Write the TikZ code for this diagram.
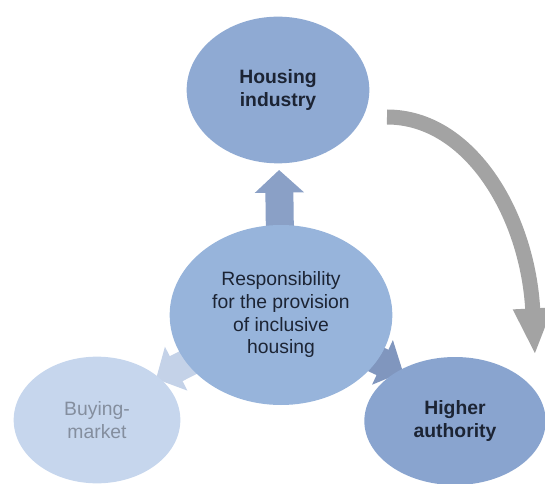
\documentclass[tikz,border=0pt]{standalone}
\usepackage{fontspec}
\setmainfont{Liberation Sans}
\usetikzlibrary{shapes.geometric,arrows.meta,backgrounds}
\definecolor{housingfill}{RGB}{143,170,211}
\definecolor{centrefill}{RGB}{151,180,219}
\definecolor{higherfill}{RGB}{137,164,207}
\definecolor{buyingfill}{RGB}{198,214,237}
\definecolor{inktext}{RGB}{28,36,52}
\definecolor{paletext}{RGB}{132,142,158}
\definecolor{uparrow}{RGB}{138,160,198}
\definecolor{sidearrow}{RGB}{128,150,190}
\definecolor{palearrow}{RGB}{196,210,232}
\definecolor{bendgray}{RGB}{163,163,163}

\begin{document}
\begin{tikzpicture}[x=0.75pt,y=0.75pt,every node/.style={shape=ellipse,align=center,inner sep=0pt,text=inktext,font=\fontsize{14.5}{17}\selectfont},
    blockarrow/.style={line width=21pt,-{Triangle[length=17pt,width=36pt]}}]
  \useasboundingbox (0,0) rectangle (545,-484);
  \node[fill=housingfill,minimum width=137pt,minimum height=110pt,font=\fontsize{14.5}{17}\selectfont\bfseries] (housing) at (278,-90) {Housing\\industry};
  \node[fill=centrefill,minimum width=167pt,minimum height=135pt] (centre) at (281,-315) {Responsibility\\for the provision\\of inclusive\\housing};
  \node[fill=buyingfill,minimum width=125pt,minimum height=95pt,text=paletext] (buying) at (97,-420) {Buying-\\market};
  \node[fill=higherfill,minimum width=136pt,minimum height=96pt,font=\fontsize{14.5}{17}\selectfont\bfseries] (higher) at (455,-421) {Higher\\authority};
  \coordinate (tipHigher) at (403,-372);
  \coordinate (tipBuying) at (156,-379);
  \coordinate (bendstart) at (387,-117);
  \coordinate (bendend) at (535,-355);
  \begin{scope}[on background layer]
    \draw[blockarrow,draw=uparrow,shorten <=40pt,shorten >=60pt] (centre.center) -- (housing.center);
    \draw[blockarrow,draw=sidearrow] (centre.center) -- (tipHigher);
    \draw[blockarrow,draw=palearrow] (centre.center) -- (tipBuying);
  \end{scope}
  \draw[line width=11.25pt,draw=bendgray,-{Triangle[length=35pt,width=27pt]}] (bendstart) .. controls (470,-117) and (528,-215) .. (bendend);
\end{tikzpicture}
\end{document}
